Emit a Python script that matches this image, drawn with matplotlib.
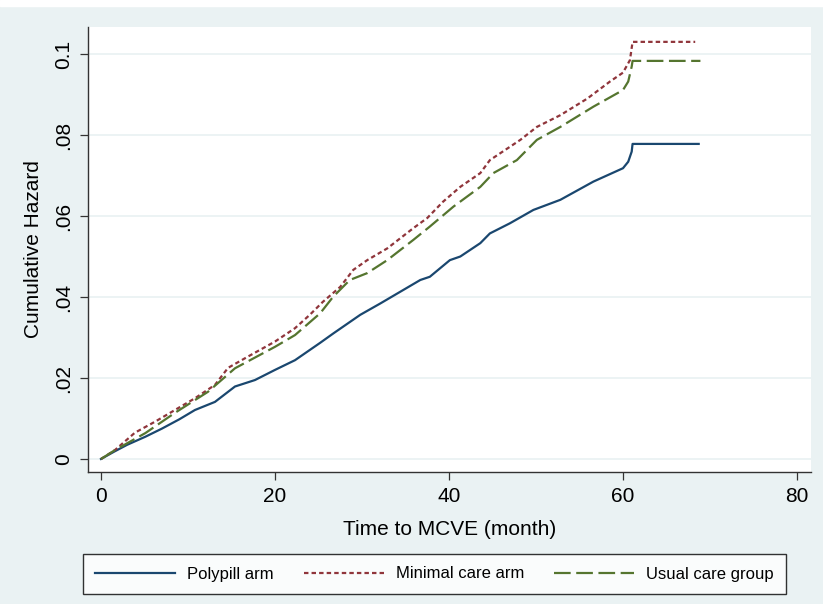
import numpy as np
import matplotlib
matplotlib.use("Agg")
import matplotlib.pyplot as plt
from matplotlib.lines import Line2D

plt.rcParams['font.family'] = ['Liberation Sans', 'DejaVu Sans']

# Nelson-Aalen cumulative hazard
poly_t = [0, 1.5, 3.0, 5.1, 7.0, 9.0, 10.8, 13.1, 15.4, 17.7, 20.0, 22.3, 25.2, 26.7, 29.8,
          32.1, 34.4, 36.7, 37.8, 40.1, 41.3, 43.6, 44.7, 47.0, 49.7, 52.8, 56.6, 60.0,
          60.6, 61.0, 61.1, 68.7]
poly_h = [0, 0.0018, 0.0035, 0.0055, 0.0075, 0.0098, 0.0121, 0.0141, 0.0179, 0.0195, 0.0220,
          0.0244, 0.0287, 0.0310, 0.0356, 0.0384, 0.0413, 0.0442, 0.0450, 0.0491, 0.0500,
          0.0533, 0.0557, 0.0582, 0.0615, 0.0640, 0.0685, 0.0718, 0.0734, 0.0759, 0.0778,
          0.0778]

mini_t = [0, 1.6, 3.9, 6.2, 8.5, 10.8, 13.1, 14.6, 16.9, 20.0, 22.3, 24.0, 25.5, 27.5,
          29.0, 30.6, 32.9, 35.9, 37.5, 39.3, 41.3, 43.6, 44.7, 48.2, 50.1, 52.8, 55.9,
          58.5, 60.0, 60.8, 61.1, 68.3]
mini_h = [0, 0.0022, 0.0065, 0.0092, 0.0121, 0.0150, 0.0183, 0.0225, 0.0253, 0.0290, 0.0323,
          0.0356, 0.0388, 0.0425, 0.0467, 0.0491, 0.0520, 0.0570, 0.0595, 0.0635, 0.0672,
          0.0706, 0.0738, 0.0788, 0.0820, 0.0849, 0.0890, 0.0932, 0.0954, 0.0985, 0.1030,
          0.1030]

usual_t = [0, 1.6, 5.1, 8.5, 12.3, 15.4, 20.0, 22.3, 25.2, 26.7, 28.6, 30.6, 32.9, 35.9,
           37.8, 40.5, 43.6, 45.1, 47.8, 50.1, 52.8, 56.6, 60.0, 60.6, 61.0, 61.1, 68.9]
usual_h = [0, 0.0022, 0.0064, 0.0114, 0.0166, 0.0224, 0.0277, 0.0306, 0.0360, 0.0401,
           0.0442, 0.0459, 0.0491, 0.0541, 0.0574, 0.0623, 0.0672, 0.0706, 0.0738, 0.0788,
           0.0820, 0.0870, 0.0911, 0.0932, 0.0969, 0.0983, 0.0983]

yticks = [0, 0.02, 0.04, 0.06, 0.08, 0.1]
ytick_labels = ['0', '.02', '.04', '.06', '.08', '0.1']
xticks = [0, 20, 40, 60, 80]

bg = '#EAF2F3'
navy = '#1A476F'
maroon = '#90353B'
green = '#55752F'

fig = plt.figure(figsize=(8.23, 6.04), dpi=100, facecolor=bg)
# thin white strip along the top edge
fig.patches.append(plt.Rectangle((0, 1 - 6 / 604), 1, 6 / 604, transform=fig.transFigure,
                                 color='white', zorder=0))

ax = fig.add_axes([88 / 823, 132 / 604, 723 / 823, 445 / 604])
ax.set_facecolor('white')

ax.plot(poly_t, poly_h, color=navy, lw=1.6, label='Polypill arm')
ax.plot(mini_t, mini_h, color=maroon, lw=1.6, dashes=(2.0, 1.4), label='Minimal care arm')
ax.plot(usual_t, usual_h, color=green, lw=1.6, dashes=(7.5, 2.5), label='Usual care group')

ax.set_xlim(-1.494, 81.61)
ax.set_ylim(-0.00321, 0.10667)
ax.set_yticks(yticks)
ax.set_yticklabels(ytick_labels, rotation=90, va='center')
ax.set_xticks(xticks)
ax.grid(axis='y', color=bg, lw=1.3)
ax.set_axisbelow(True)

for s in ['top', 'right']:
    ax.spines[s].set_visible(False)
for s in ['left', 'bottom']:
    ax.spines[s].set_color('#333333')
    ax.spines[s].set_linewidth(1.0)
ax.tick_params(axis='both', length=5.8, width=0.9, color='#333333', labelsize=15, pad=5)

ax.set_xlabel('Time to MCVE (month)', fontsize=15, labelpad=10)
ax.set_ylabel('Cumulative Hazard', fontsize=15, labelpad=8)

handles = [Line2D([], [], color=navy, lw=1.6),
           Line2D([], [], color=maroon, lw=1.6, dashes=(2.0, 1.4)),
           Line2D([], [], color=green, lw=1.6, dashes=(7.5, 2.5))]
labels = ['Polypill arm', 'Minimal care arm', 'Usual care group']
leg = fig.legend(handles, labels, ncol=3, loc='center',
                 bbox_to_anchor=(434.5 / 823, 1 - 574 / 604), fontsize=12,
                 handlelength=4.8, handletextpad=0.72, columnspacing=1.8,
                 frameon=True, fancybox=False, borderpad=0.75, edgecolor='black')
leg.get_frame().set_linewidth(1.0)

fig.savefig('out.png', dpi=100, facecolor=bg)
